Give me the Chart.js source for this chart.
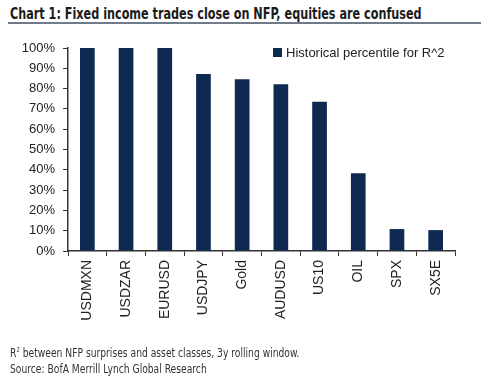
<!DOCTYPE html>
<html>
<head>
<meta charset="utf-8">
<script src="https://cdn.jsdelivr.net/npm/chart.js@4/dist/chart.umd.min.js"></script>
<style>
    html, body { margin: 0; padding: 0; background: #fff; }
    #wrap { position: relative; width: 500px; height: 379px; overflow: hidden; }
    #chart { position: absolute; left: 0; top: 0; }
    .title {
        position: absolute; left: 10px; top: 5px;
        font: bold 15px 'DejaVu Sans Condensed', sans-serif;
        color: #1b1b1b; white-space: nowrap;
        transform: scaleX(0.832); transform-origin: 0 0;
    }
    .rule { position: absolute; left: 8px; top: 22px; width: 473px; height: 2px; background: #6f7b88; }
    .note {
        position: absolute; left: 10px; top: 342px;
        font: 12px 'DejaVu Sans Condensed', sans-serif;
        color: #333; line-height: 16px; white-space: nowrap;
        transform: scaleX(0.85); transform-origin: 0 0;
    }
    .note sup { font-size: 7px; vertical-align: 5px; }
</style>
</head>
<body>
<div id="wrap">
    <div class="title">Chart 1: Fixed income trades close on NFP, equities are confused</div>
    <div class="rule"></div>
    <canvas id="chart" width="500" height="379"></canvas>
    <div class="note">R<sup>2</sup> between NFP surprises and asset classes, 3y rolling window.<br>Source: BofA Merrill Lynch Global Research</div>
</div>
<script>
const CATEGORIES = [ 'USDMXN', 'USDZAR', 'EURUSD', 'USDJPY', 'Gold', 'AUDUSD', 'US10', 'OIL', 'SPX', 'SX5E' ];
const PERCENTILE = [ 1.00, 1.00, 1.00, 0.872, 0.846, 0.821, 0.735, 0.383, 0.108, 0.103 ];
const SERIES_LABEL = 'Historical percentile for R^2';
const Y_TICKS = [ 0, 0.1, 0.2, 0.3, 0.4, 0.5, 0.6, 0.7, 0.8, 0.9, 1.0 ];

const NAVY = '#0f2a52';
const INK  = '#222';

// legend sits inside the plot, top right, like the original
const insideLegend = {
    id: 'insideLegend',
    afterDraw( chart ) {
        const { ctx } = chart;
        const ds = chart.data.datasets[ 0 ];
        ctx.save();
        ctx.fillStyle = ds.backgroundColor;
        ctx.fillRect( 273, 48, 9, 9 );
        ctx.fillStyle = INK;
        ctx.font = '13px "Liberation Sans", Arial, sans-serif';
        ctx.textBaseline = 'middle';
        ctx.fillText( ds.label, 286, 53 );
        ctx.restore();
    },
};

new Chart( document.getElementById( 'chart' ), {
    type: 'bar',
    data: {
        labels: CATEGORIES,
        datasets: [ {
            label: SERIES_LABEL,
            data: PERCENTILE,
            backgroundColor: NAVY,
            categoryPercentage: 1,
            barPercentage: 0.38,
        } ],
    },
    options: {
        responsive: false,
        animation: false,
        layout: { padding: { top: 48, right: 45, left: 0, bottom: 28 } },
        plugins: {
            legend: { display: false },
            tooltip: { enabled: false },
        },
        scales: {
            x: {
                grid: { drawOnChartArea: false, drawTicks: true, tickLength: 5, color: '#333', offset: true },
                border: { display: true, color: '#333', width: 1.5 },
                ticks: {
                    minRotation: 90, maxRotation: 90, autoSkip: false, padding: 4,
                    color: INK, font: { family: '"Liberation Sans", Arial, sans-serif', size: 14 },
                },
                afterFit: ( s ) => { s.height = 100; },
            },
            y: {
                min: 0, max: 1,
                grid: { drawOnChartArea: false, drawTicks: true, tickLength: 5, color: '#333' },
                border: { display: true, color: '#333', width: 1.5 },
                afterBuildTicks: ( s ) => { s.ticks = Y_TICKS.map( ( v ) => ( { value: v } ) ); },
                ticks: {
                    padding: 8, color: INK,
                    font: { family: '"Liberation Sans", Arial, sans-serif', size: 13 },
                    callback: ( v ) => Math.round( v * 100 ) + '%',
                },
                afterFit: ( s ) => { s.width = 68; },
            },
        },
    },
    plugins: [ insideLegend ],
} );
</script>
</body>
</html>
